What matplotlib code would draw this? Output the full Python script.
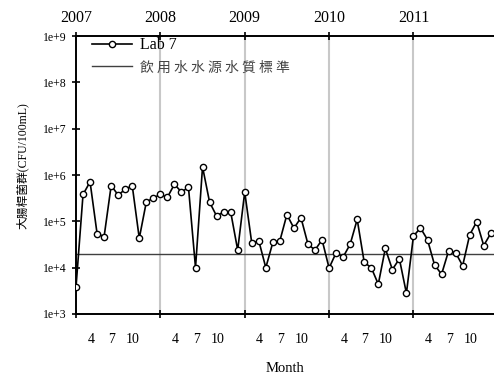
import matplotlib
matplotlib.use("Agg")
import matplotlib.pyplot as plt
from matplotlib.ticker import FixedLocator, FixedFormatter, NullFormatter
from matplotlib.lines import Line2D

# ---- data ----
years = [2007, 2008, 2009, 2010, 2011]
month_labels = [4, 7, 10]
ytick_values = [1e3, 1e4, 1e5, 1e6, 1e7, 1e8, 1e9]
ytick_labels = ['1e+3', '1e+4', '1e+5', '1e+6', '1e+7', '1e+8', '1e+9']
lab7 = [3800, 380000, 710000, 54000, 47000, 590000, 370000, 490000, 590000, 43000, 260000, 320000,
        380000, 330000, 630000, 430000, 540000, 10000, 1500000, 260000, 130000, 160000, 160000, 24000,
        430000, 34000, 38000, 10000, 35000, 38000, 140000, 71000, 120000, 32000, 24000, 40000,
        9800, 21000, 17000, 32000, 110000, 13000, 10000, 4400, 26000, 9100, 15500, 2800,
        48000, 72000, 40000, 11500, 7200, 23000, 21000, 11000, 51000, 98000, 30000, 55000]
standard = 20000
series_label = 'Lab 7'
standard_label = '飲用水水源水質標準'
ylabel = '大腸桿菌群(CFU/100mL)'
xlabel = 'Month'

W, H = 494, 373
fig = plt.figure(figsize=(W / 100, H / 100), dpi=100)
left_px, top_px, bottom_px = 76, 36, 314
px_per_month = 7.03
n_months = 12 * len(years)
ax = fig.add_axes([left_px / W, (H - bottom_px) / H, n_months * px_per_month / W, (bottom_px - top_px) / H])

serif = 'Liberation Serif'
cjk = ['Liberation Serif', 'Noto Sans CJK TC']

months_idx = list(range(len(lab7)))
for k in range(1, len(years)):
    ax.axvline(12 * k, color='#c8c8c8', lw=1.5, zorder=0)
ax.axhline(standard, color='#404040', lw=1.0, zorder=1)
ax.plot(months_idx, lab7, color='black', lw=1.2, marker='o', ms=4.5,
        mfc='white', mec='black', mew=1.0, zorder=3)

ax.set_yscale('log')
ax.set_ylim(1e3, 1e9)
ax.set_xlim(0, n_months)
ax.yaxis.set_major_locator(FixedLocator(ytick_values))
ax.yaxis.set_major_formatter(FixedFormatter(ytick_labels))
ax.yaxis.set_minor_locator(FixedLocator([]))
ax.yaxis.set_minor_formatter(NullFormatter())
ax.tick_params(axis='y', which='major', direction='inout', length=6, width=1.2,
               labelsize=8.5, pad=4)
for t in ax.get_yticklabels():
    t.set_fontfamily(serif)

# x: year ticks top labelled, month labels bottom
ax.xaxis.set_major_locator(FixedLocator([12 * k for k in range(len(years))]))
ax.xaxis.set_major_formatter(FixedFormatter([str(y) for y in years]))
minor_pos = [12 * k + m - 1.9 for k in range(len(years)) for m in month_labels]
minor_lab = [str(m) for k in range(len(years)) for m in month_labels]
ax.xaxis.set_minor_locator(FixedLocator(minor_pos))
ax.xaxis.set_minor_formatter(FixedFormatter(minor_lab))
ax.tick_params(axis='x', which='major', direction='inout', length=6, width=1.2,
               top=True, bottom=True, labeltop=True, labelbottom=False,
               labelsize=11.5, pad=4)
ax.tick_params(axis='x', which='minor', length=0, top=False, bottom=True,
               labelbottom=True, labeltop=False, labelsize=10, pad=14)
for t in ax.get_xticklabels(which='both'):
    t.set_fontfamily(serif)

for s in ['left', 'bottom', 'top']:
    ax.spines[s].set_linewidth(1.4)
ax.spines['right'].set_visible(False)

fig.text(22 / W, 1 - 166 / H, ylabel, rotation=90, ha='center', va='center',
         fontsize=8.5, family=cjk)
fig.text(285 / W, 1 - 368 / H, xlabel, ha='center', va='center', fontsize=10.5, family=serif)

h1 = Line2D([], [], color='black', lw=1.2, marker='o', ms=4.5, mfc='white', mec='black', mew=1.0)
h2 = Line2D([], [], color='#404040', lw=1.0)
leg = ax.legend([h1, h2], [series_label, ' '.join(standard_label)], loc='upper left',
                bbox_to_anchor=(0.037, 0.995), frameon=False, borderaxespad=0, borderpad=0,
                handlelength=2.5, handletextpad=0.55, labelspacing=0.45,
                prop={'family': serif, 'size': 11.5})
t2 = leg.get_texts()[1]
t2.set_fontfamily(['Noto Sans CJK TC'])
t2.set_fontsize(10)
t2.set_color('#444444')

fig.savefig('out.png', dpi=100)
